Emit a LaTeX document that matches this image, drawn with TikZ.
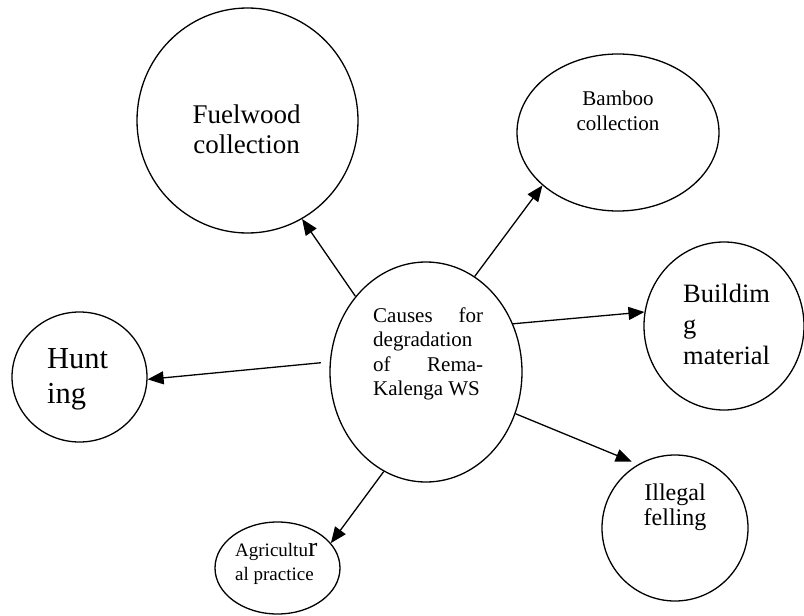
\documentclass[tikz,border=0pt]{standalone}
\usepackage{fontspec}
\setmainfont{Liberation Serif}
\usetikzlibrary{shapes.geometric,arrows.meta}
\begin{document}
\begin{tikzpicture}[x=1pt,y=-1pt,
  bubble/.style={draw,ellipse,line width=1.3pt,inner sep=0pt},
  link/.style={line width=1.3pt,-{Triangle[length=16pt,width=13pt]}},
  lbl/.style={inner sep=0pt,anchor=base}]
\useasboundingbox (0,0) rectangle (804,616);

% outlines
\node[bubble,minimum width=192pt,minimum height=220pt] (c)  at (426,372) {};
\node[bubble,minimum width=221pt,minimum height=225pt] (f)  at (247.5,120.5) {};
\node[bubble,minimum width=202pt,minimum height=157pt] (b)  at (618,132.5) {};
\node[bubble,minimum width=160pt,minimum height=168pt] (bm) at (724,326) {};
\node[bubble,minimum width=135pt,minimum height=130pt] (h)  at (79.5,377) {};
\node[bubble,minimum width=146pt,minimum height=146pt] (il) at (675,528) {};
\node[bubble,minimum width=125pt,minimum height=92pt]  (ag) at (277.5,568) {};

% labels
\node[lbl,anchor=base west] (tc) at (373,322)
  {\fontsize{21}{24.5}\selectfont\begin{tabular}[t]{@{}l@{}}\hbox to 110pt{Causes\hfill for}\\degradation\\\hbox to 110pt{of\hfill Rema-}\\Kalenga WS\end{tabular}};
\node[lbl] (tf) at (246.5,123)
  {\fontsize{27}{30}\selectfont\begin{tabular}[t]{@{}c@{}}Fuelwood\\collection\end{tabular}};
\node[lbl] (tb) at (618,105)
  {\fontsize{21}{25}\selectfont\begin{tabular}[t]{@{}c@{}}Bamboo\\collection\end{tabular}};
\node[lbl,anchor=base west] (tbm) at (683,302)
  {\fontsize{26.5}{31}\selectfont\begin{tabular}[t]{@{}l@{}}Buildim\\g\\material\end{tabular}};
\node[lbl,anchor=base west] (th) at (47,368)
  {\fontsize{30.5}{35.5}\selectfont\begin{tabular}[t]{@{}l@{}}Hunt\\ing\end{tabular}};
\node[lbl] (til) at (675,500)
  {\fontsize{24}{25}\selectfont\begin{tabular}[t]{@{}c@{}}Illegal\\felling\end{tabular}};
\node[lbl,anchor=base west] (tag) at (235,556)
  {\fontsize{19}{24}\selectfont\begin{tabular}[t]{@{}l@{}}Agricultu{\fontsize{28}{24}\selectfont r}\\al practice\end{tabular}};

% connectors
\draw[link] (c.133) -- (f.-61.4);
\draw[link] (c.63) -- (b.-145);
\draw[link] (c.29.8) -- (bm.170.8);
\draw[link,shorten <=9pt] (c.174.6) -- (h.-2);
\draw[link,shorten >=7pt] (c.-25.6) -- (il.120.7);
\draw[link] (c.-113.7) -- (ag.25.9);
\end{tikzpicture}
\end{document}
